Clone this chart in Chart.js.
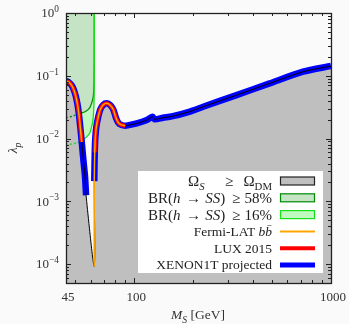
<!DOCTYPE html>
<html>
<head>
<meta charset="utf-8">
<script src="https://cdn.jsdelivr.net/npm/chart.js@4"></script>
<style>
  body { margin: 0; background: #fafafa; }
  #wrap { width: 349px; height: 324px; }
</style>
</head>
<body>
<div id="wrap"><canvas id="chart" width="349" height="324"></canvas></div>
<script>
/* relic density boundary: left branch down to the h/2 resonance, then right branch */
var boundaryMass = [45, 46.5, 48, 49.3, 50.4, 51.4, 52.3, 53.1, 54.1, 55.1, 56.2, 56.9, 62.6,
  62.65, 63.0, 63.5, 64.3, 65.6, 67.2, 69.6, 72.5, 75.5, 78.3, 80.5, 82.9, 86, 90, 95,
  103, 115, 124, 127, 140, 155, 190, 224, 331, 488, 721, 1000];
var boundaryLambda = [0.083, 0.079, 0.071, 0.060, 0.048, 0.036, 0.025, 0.016, 0.0088, 0.0047, 0.0025, 0.00125, 9.2e-5,
  0.0021, 0.006, 0.011, 0.016, 0.022, 0.029, 0.0345, 0.0365, 0.034, 0.029, 0.022, 0.018, 0.0165, 0.016, 0.0165,
  0.0174, 0.0195, 0.0222, 0.0203, 0.0215, 0.0225, 0.0267, 0.0321, 0.0492, 0.0757, 0.116, 0.143];
var dipIndex = 12; // index of the resonance minimum

/* Higgs invisible width limits */
var br58Mass = [45, 49.1, 53.0, 56.2, 59.1, 60.7, 61.9, 62.4, 62.6, 62.7];
var br58Lambda = [0.0214, 0.023, 0.0251, 0.0267, 0.0302, 0.0363, 0.0463, 0.0668, 0.123, 1];
var br16Mass = [45, 51.0, 54.1, 57.3, 59.5, 60.7, 61.7, 62.4, 62.6, 62.7];
var br16Lambda = [0.00785, 0.00853, 0.00919, 0.01064, 0.0124, 0.0152, 0.0197, 0.0341, 0.059, 1];

/* where the experimental curves run along the boundary: [left cut, right cut, max mass] */
var fermiCuts = [0.0088, 9.2e-5, 90];
var luxCuts = [0.0088, 0.006, 92];
var xenonCuts = [0.00125, 0.0021, 1000];

var massLabels = [45, 100, 1000];
var lambdaExponents = [0, -1, -2, -3, -4];

var GRAY = '#bfbfbf', DKGREEN = '#008a00', LTGREEN = '#18e018';
var DKFILL = 'rgb(197,227,197)', LTFILL = 'rgb(192,250,192)';
var ORANGE = '#ffa500', RED = '#ff0000', BLUE = '#0000ff';

function points(xs, ys) {
  return xs.map(function (m, i) { return { x: m, y: ys[i] }; });
}

function branchCurve(cuts) {
  var out = [];
  for (var i = 0; i <= dipIndex; i++) {
    if (boundaryLambda[i] >= cuts[0]) out.push({ x: boundaryMass[i], y: boundaryLambda[i] });
  }
  out.push({ x: 60, y: null });
  for (var j = dipIndex; j < boundaryMass.length; j++) {
    if (j === dipIndex && cuts[1] > boundaryLambda[j]) continue;
    if (j > dipIndex && boundaryLambda[j] < cuts[1]) continue;
    if (boundaryMass[j] > cuts[2]) break;
    out.push({ x: boundaryMass[j], y: boundaryLambda[j] });
  }
  return out;
}

function serif(size, italic) {
  return (italic ? 'italic ' : '') + size + 'px "Liberation Serif", "DejaVu Serif", serif';
}

function runSize(r, size) {
  return (r.sub || r.sup) ? size * 0.72 : size;
}

function richWidth(ctx, runs, size) {
  var w = 0;
  runs.forEach(function (r) {
    ctx.font = serif(runSize(r, size), r.it);
    w += ctx.measureText(r.t).width;
  });
  return w;
}

// draws a run list; when a left edge is given the spare room goes into the weighted gaps
function drawRich(ctx, runs, x, yMid, size, align, leftEdge) {
  var w = richWidth(ctx, runs, size);
  var spare = 0, weights = 0;
  runs.forEach(function (r) { weights += r.g || 0; });
  if (leftEdge !== undefined && weights > 0) spare = Math.max(0, (x - leftEdge) - w);
  var total = w + spare;
  var cx = align === 'right' ? x - total : align === 'center' ? x - total / 2 : x;
  var base = yMid + size * 0.33;
  ctx.textBaseline = 'alphabetic';
  ctx.textAlign = 'left';
  runs.forEach(function (r) {
    ctx.font = serif(runSize(r, size), r.it);
    var dy = r.sub ? size * 0.25 : r.sup ? -size * 0.42 : 0;
    ctx.fillText(r.t, cx, base + dy);
    cx += ctx.measureText(r.t).width + (r.g ? spare * r.g / weights : 0);
  });
}

var legendItems = [
  { runs: [{ t: 'Ω' }, { t: 'S', it: true, sub: true, g: 2 }, { t: '≥', g: 1 }, { t: 'Ω' }, { t: 'DM', sub: true }], left: 188, box: [GRAY, '#222'] },
  { runs: [{ t: 'BR(' }, { t: 'h', it: true, g: 0.8 }, { t: '→', g: 0.6 }, { t: 'SS', it: true }, { t: ')', g: 1 }, { t: '≥', g: 0.6 }, { t: '58%' }], left: 148, box: [DKFILL, DKGREEN] },
  { runs: [{ t: 'BR(' }, { t: 'h', it: true, g: 0.8 }, { t: '→', g: 0.6 }, { t: 'SS', it: true }, { t: ')', g: 1 }, { t: '≥', g: 0.6 }, { t: '16%' }], left: 148, box: [LTFILL, LTGREEN] },
  { runs: [{ t: 'Fermi-LAT ' }, { t: 'bb\u0304', it: true }], line: [ORANGE, 2] },
  { runs: [{ t: 'LUX 2015' }], line: [RED, 4] },
  { runs: [{ t: 'XENON1T projected' }], line: [BLUE, 5] }
];

var axesPlugin = {
  id: 'axesPlugin',
  afterDraw: function (chart) {
    var ctx = chart.ctx, a = chart.chartArea, xs = chart.scales.x, ys = chart.scales.y;
    ctx.save();

    // legend panel
    ctx.fillStyle = '#ffffff';
    ctx.fillRect(138, 171, 185, 102);
    legendItems.forEach(function (item, i) {
      var yc = 181 + i * 16.8;
      ctx.fillStyle = '#222';
      drawRich(ctx, item.runs, 272, yc, item.left ? 15 : 13.5, 'right', item.left);
      if (item.box) {
        ctx.fillStyle = item.box[0];
        ctx.fillRect(280.5, yc - 4, 34, 8);
        ctx.strokeStyle = item.box[1];
        ctx.lineWidth = 1.2;
        ctx.strokeRect(280.5, yc - 4, 34, 8);
      } else {
        ctx.strokeStyle = item.line[0];
        ctx.lineWidth = item.line[1];
        ctx.beginPath();
        ctx.moveTo(280, yc);
        ctx.lineTo(315, yc);
        ctx.stroke();
      }
    });

    // frame and inward ticks
    ctx.strokeStyle = '#222';
    ctx.lineWidth = 1;
    ctx.beginPath();
    var xMinor = [50, 60, 70, 80, 90, 200, 300, 400, 500, 600, 700, 800, 900];
    xMinor.concat([100]).forEach(function (m) {
      var px = Math.round(xs.getPixelForValue(m)) + 0.5;
      var len = m === 100 ? 5 : 3;
      ctx.moveTo(px, a.bottom); ctx.lineTo(px, a.bottom - len);
      ctx.moveTo(px, a.top); ctx.lineTo(px, a.top + len);
    });
    for (var e = -5; e <= 0; e++) {
      for (var k = 1; k <= 9; k++) {
        var v = k * Math.pow(10, e);
        if (v < ys.min || v > ys.max) continue;
        var py = Math.round(ys.getPixelForValue(v)) + 0.5;
        var len = k === 1 ? 5 : 3;
        ctx.moveTo(a.left, py); ctx.lineTo(a.left + len, py);
        ctx.moveTo(a.right, py); ctx.lineTo(a.right - len, py);
      }
    }
    ctx.stroke();
    ctx.lineWidth = 1.3;
    ctx.strokeRect(a.left + 0.5, a.top + 0.5, a.right - a.left, a.bottom - a.top);

    // tick labels
    ctx.fillStyle = '#333';
    massLabels.forEach(function (m) {
      drawRich(ctx, [{ t: String(m) }], xs.getPixelForValue(m) + 2, 297, 13, 'center');
    });
    lambdaExponents.forEach(function (p) {
      var label = p < 0 ? '\u2212' + (-p) : String(p);
      drawRich(ctx, [{ t: '10' }, { t: label, sup: true }], 59, ys.getPixelForValue(Math.pow(10, p)), 13, 'right');
    });

    // axis titles
    drawRich(ctx, [{ t: 'M', it: true }, { t: 'S', it: true, sub: true }, { t: ' [GeV]' }], 198, 315, 13.5, 'center');
    ctx.translate(13, 148);
    ctx.rotate(-Math.PI / 2);
    drawRich(ctx, [{ t: 'λ', it: true }, { t: 'p', it: true, sub: true }], 0, 0, 13.5, 'center');
    ctx.restore();
  }
};

var lineBase = { pointRadius: 0, tension: 0.25, spanGaps: false };

new Chart(document.getElementById('chart'), {
  type: 'line',
  data: {
    datasets: [
      Object.assign({ label: 'Fermi-LAT', data: branchCurve(fermiCuts), borderColor: ORANGE, borderWidth: 1.5, fill: false, order: 1 }, lineBase),
      Object.assign({ label: 'LUX 2015', data: branchCurve(luxCuts), borderColor: RED, borderWidth: 4, fill: false, order: 2 }, lineBase),
      Object.assign({ label: 'relic boundary', data: points(boundaryMass, boundaryLambda), borderColor: '#000', borderWidth: 1, fill: false, order: 3 }, lineBase),
      Object.assign({ label: 'XENON1T projected', data: branchCurve(xenonCuts), borderColor: BLUE, borderWidth: 6.5, fill: false, order: 4 }, lineBase),
      Object.assign({ label: 'BR 16% line', data: points(br16Mass, br16Lambda), borderColor: LTGREEN, borderWidth: 1.3, fill: false, order: 5,
        segment: { borderDash: function (c) { return c.p1.parsed.x <= 54.1 ? [2, 2] : undefined; } } }, lineBase),
      Object.assign({ label: 'BR 58% line', data: points(br58Mass, br58Lambda), borderColor: DKGREEN, borderWidth: 1.3, fill: false, order: 6,
        segment: { borderDash: function (c) { return c.p1.parsed.x <= 53.0 ? [2, 2] : undefined; } } }, lineBase),
      Object.assign({ label: 'relic region', data: points(boundaryMass, boundaryLambda), borderWidth: 0, borderColor: 'rgba(0,0,0,0)', backgroundColor: GRAY, fill: 'start', order: 7 }, lineBase),
      Object.assign({ label: 'BR 58% region', data: points(br58Mass, br58Lambda), borderWidth: 0, borderColor: 'rgba(0,0,0,0)', backgroundColor: DKFILL, fill: 'end', order: 8 }, lineBase),
      Object.assign({ label: 'BR 16% region', data: points(br16Mass, br16Lambda), borderWidth: 0, borderColor: 'rgba(0,0,0,0)', backgroundColor: LTFILL, fill: 'end', order: 9 }, lineBase)
    ]
  },
  options: {
    responsive: false,
    animation: false,
    layout: { padding: { left: 66, right: 18, top: 13, bottom: 41 } },
    plugins: { legend: { display: false }, tooltip: { enabled: false } },
    scales: {
      x: { type: 'logarithmic', min: 45, max: 1000, display: false },
      y: { type: 'logarithmic', min: 5e-5, max: 1, display: false }
    }
  },
  plugins: [axesPlugin]
});
</script>
</body>
</html>
